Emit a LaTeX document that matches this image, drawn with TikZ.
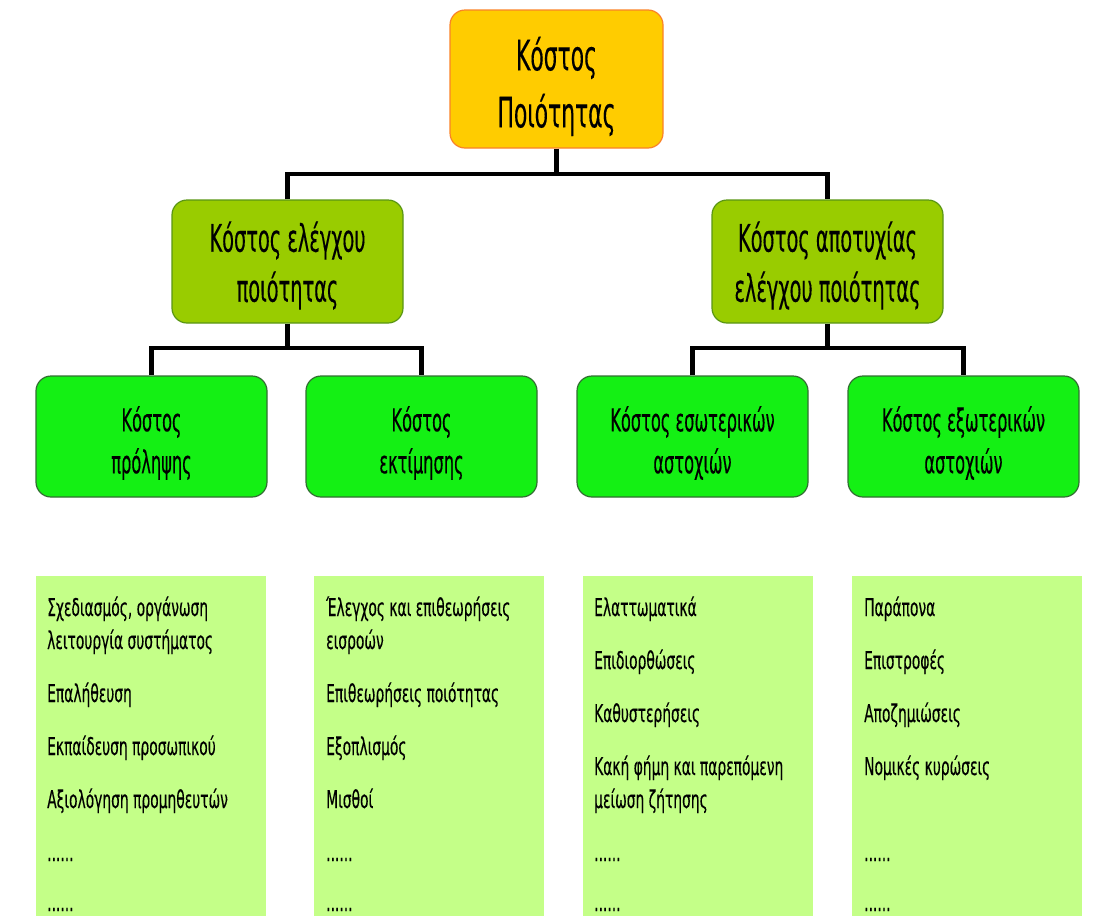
\documentclass[tikz,border=0pt]{standalone}
\usepackage{fontspec}
\setmainfont[FakeStretch=0.565,FakeBold=0.25]{DejaVu Sans}
\newfontfamily\headfont[FakeStretch=0.52,FakeBold=0.25]{DejaVu Sans}
\newfontfamily\midfont[FakeStretch=0.51,FakeBold=0.25]{DejaVu Sans}
\newfontfamily\leaffont[FakeStretch=0.515,FakeBold=0.25]{DejaVu Sans}
\begin{document}
\begin{tikzpicture}[x=1pt,y=-1pt,
  box/.style={draw, rounded corners=15pt, line width=1.2pt, inner sep=0pt},
  topbox/.style={box, fill=gold, draw=topedge, minimum width=213pt, minimum height=138pt},
  midbox/.style={box, fill=olive, draw=oliveedge, minimum width=231pt, minimum height=123pt},
  leafbox/.style={box, fill=leaf, draw=leafedge, minimum width=231pt, minimum height=121pt},
  toptext/.style={align=center, inner sep=0pt, yshift=-7.5pt, font=\headfont\fontsize{42}{57}\selectfont},
  midtext/.style={align=center, inner sep=0pt, yshift=-4pt, font=\midfont\fontsize{38}{50}\selectfont},
  leaftext/.style={align=center, inner sep=0pt, yshift=-6.5pt, font=\leaffont\fontsize{31.5}{42}\selectfont},
  panel/.style={fill=pale, draw=none, anchor=north west, minimum width=230pt, minimum height=345pt, inner sep=0pt},
  item/.style={anchor=base west, inner sep=0pt, font=\fontsize{24.5}{33}\selectfont},
  conn/.style={line width=4.5pt, black, line join=miter, line cap=butt}]
\definecolor{gold}{RGB}{255,204,0}
\definecolor{topedge}{RGB}{250,130,40}
\definecolor{olive}{RGB}{153,204,0}
\definecolor{oliveedge}{RGB}{90,150,20}
\definecolor{leaf}{RGB}{20,240,20}
\definecolor{leafedge}{RGB}{50,110,50}
\definecolor{pale}{RGB}{196,255,136}

\useasboundingbox (0,0) rectangle (1101,916);

% junctions of the tree connectors
\coordinate (j0) at (556.5,174);
\coordinate (j1) at (287.5,348);
\coordinate (j2) at (827.5,348);

% boxes of the tree
\node[topbox] (top) at (556.5,79) {};
\node[midbox] (ctrl) at (287.5,261.5) {};
\node[midbox] (fail) at (827.5,261.5) {};
\node[leafbox] (prev) at (151.5,436.5) {};
\node[leafbox] (appr) at (421.5,436.5) {};
\node[leafbox] (intf) at (692.5,436.5) {};
\node[leafbox] (extf) at (963.5,436.5) {};

% their titles
\node[toptext] (topT) at (top.center) {Κόστος\\Ποιότητας};
\node[midtext] (ctrlT) at (ctrl.center) {Κόστος ελέγχου\\ποιότητας};
\node[midtext] (failT) at (fail.center) {Κόστος αποτυχίας\\ελέγχου ποιότητας};
\node[leaftext] (prevT) at (prev.center) {Κόστος\\πρόληψης};
\node[leaftext] (apprT) at (appr.center) {Κόστος\\εκτίμησης};
\node[leaftext] (intfT) at (intf.center) {Κόστος εσωτερικών\\αστοχιών};
\node[leaftext] (extfT) at (extf.center) {Κόστος εξωτερικών\\αστοχιών};

% connectors
\draw[conn] (top.south) -- (j0);
\draw[conn] (ctrl.north) |- (j0) -| (fail.north);
\draw[conn] (ctrl.south) -- (j1);
\draw[conn] (prev.north) |- (j1) -| (appr.north);
\draw[conn] (fail.south) -- (j2);
\draw[conn] (intf.north) |- (j2) -| (extf.north);

% detail panels
\node[panel] (p1) at (36,576) {};
\node[panel] (p2) at (314,576) {};
\node[panel] (p3) at (583,576) {};
\node[panel] (p4) at (852,576) {};

% prevention costs
\node[item] (a1) at (47,616) {Σχεδιασμός, οργάνωση};
\node[item] (a2) at (47,649) {λειτουργία συστήματος};
\node[item] (a3) at (47,702) {Επαλήθευση};
\node[item] (a4) at (47,755) {Εκπαίδευση προσωπικού};
\node[item] (a5) at (47,808) {Αξιολόγηση προμηθευτών};
\node[item] (a6) at (47,861) {......};
\node[item] (a7) at (47,911) {......};

% appraisal costs
\node[item] (b1) at (326,616) {Έλεγχος και επιθεωρήσεις};
\node[item] (b2) at (326,649) {εισροών};
\node[item] (b3) at (326,702) {Επιθεωρήσεις ποιότητας};
\node[item] (b4) at (326,755) {Εξοπλισμός};
\node[item] (b5) at (326,808) {Μισθοί};
\node[item] (b6) at (326,861) {......};
\node[item] (b7) at (326,911) {......};

% internal failure costs
\node[item] (c1) at (594,616) {Ελαττωματικά};
\node[item] (c2) at (594,669) {Επιδιορθώσεις};
\node[item] (c3) at (594,722) {Καθυστερήσεις};
\node[item] (c4) at (594,775) {Κακή φήμη και παρεπόμενη};
\node[item] (c5) at (594,808) {μείωση ζήτησης};
\node[item] (c6) at (594,861) {......};
\node[item] (c7) at (594,911) {......};

% external failure costs
\node[item] (d1) at (864,616) {Παράπονα};
\node[item] (d2) at (864,669) {Επιστροφές};
\node[item] (d3) at (864,722) {Αποζημιώσεις};
\node[item] (d4) at (864,775) {Νομικές κυρώσεις};
\node[item] (d6) at (864,861) {......};
\node[item] (d7) at (864,911) {......};
\end{tikzpicture}
\end{document}
